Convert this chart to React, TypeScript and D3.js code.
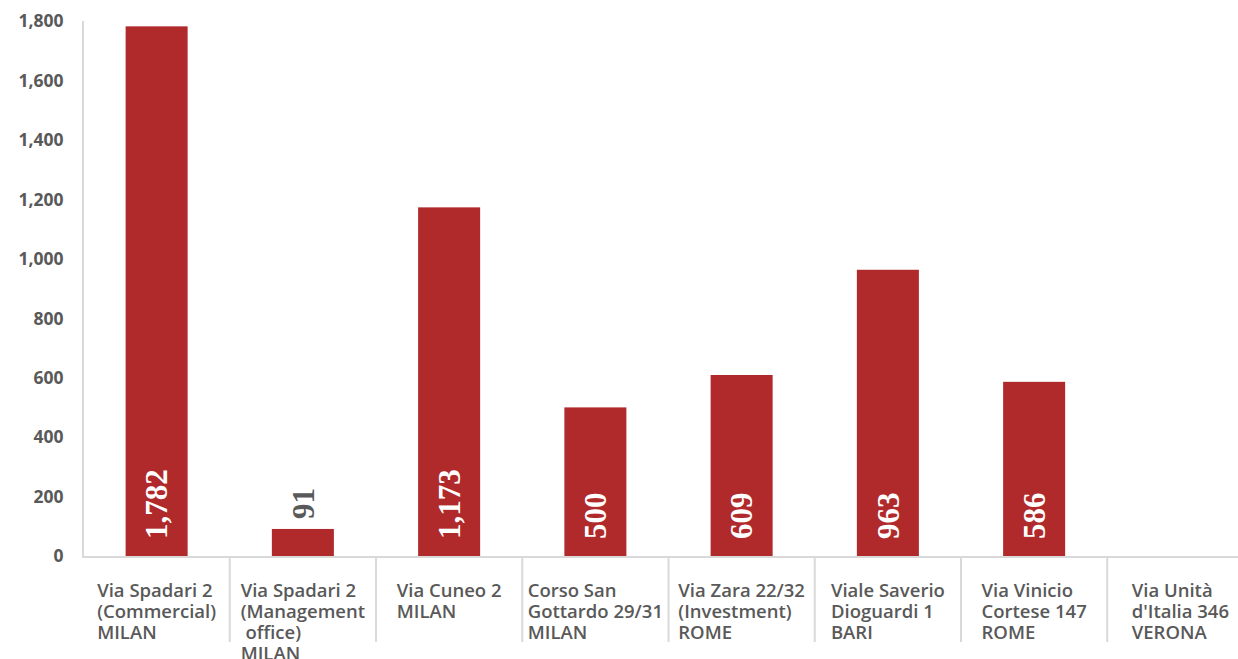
import React, { useEffect, useRef } from "react";
import * as d3 from "d3";

const categories: string[][] = [
  ["Via Spadari 2", "(Commercial)", "MILAN"],
  ["Via Spadari 2", "(Management", " office)", "MILAN"],
  ["Via Cuneo 2", "MILAN"],
  ["Corso San", "Gottardo 29/31", "MILAN"],
  ["Via Zara 22/32", "(Investment)", "ROME"],
  ["Viale Saverio", "Dioguardi 1", "BARI"],
  ["Via Vinicio", "Cortese 147", "ROME"],
  ["Via Unità", "d'Italia 346", "VERONA"],
];
const values: (number | null)[] = [1782, 91, 1173, 500, 609, 963, 586, null];
const yTicks: number[] = [0, 200, 400, 600, 800, 1000, 1200, 1400, 1600, 1800];

const W = 1238;
const H = 659;
const BAR = "#b0292b";
const TEXT = "#595959";
const AXIS = "#d9d9d9";

export default function App() {
  const ref = useRef<SVGSVGElement | null>(null);
  useEffect(() => {
    const svg = d3.select(ref.current);
    svg.selectAll("*").remove();
    const left = 83.5;
    const step = 146.25;
    const x = d3
      .scaleBand<number>()
      .domain(d3.range(categories.length))
      .range([left, left + step * categories.length])
      .paddingInner(0.576)
      .paddingOuter(0.288);
    const y = d3.scaleLinear().domain([0, 1800]).range([556, 21]);
    const fmt = d3.format(",");

    // y tick labels
    svg
      .append("g")
      .selectAll("text")
      .data(yTicks)
      .join("text")
      .attr("x", 63.5)
      .attr("y", (d) => y(d))
      .attr("dy", "0.36em")
      .attr("text-anchor", "end")
      .attr("font-family", "'Open Sans', Lato, sans-serif")
      .attr("font-weight", 700)
      .attr("font-size", 17.5)
      .attr("fill", TEXT)
      .text((d) => fmt(d));

    // bars
    svg
      .append("g")
      .selectAll("rect")
      .data(values.map((v, i) => ({ v, i })).filter((d) => d.v != null))
      .join("rect")
      .attr("x", (d) => x(d.i)!)
      .attr("width", x.bandwidth())
      .attr("y", (d) => y(d.v as number))
      .attr("height", (d) => y(0) - y(d.v as number))
      .attr("fill", BAR);

    // axes lines
    svg
      .append("line")
      .attr("x1", left - 0.5)
      .attr("x2", left - 0.5)
      .attr("y1", y(1800))
      .attr("y2", y(0))
      .attr("stroke", AXIS)
      .attr("stroke-width", 2);
    svg
      .append("line")
      .attr("x1", left - 1.5)
      .attr("x2", W)
      .attr("y1", y(0) + 1)
      .attr("y2", y(0) + 1)
      .attr("stroke", AXIS)
      .attr("stroke-width", 2);
    // category dividers
    svg
      .append("g")
      .selectAll("line")
      .data(d3.range(1, categories.length + 1))
      .join("line")
      .attr("x1", (i) => left + step * i)
      .attr("x2", (i) => left + step * i)
      .attr("y1", y(0))
      .attr("y2", 642)
      .attr("stroke", AXIS)
      .attr("stroke-width", 2);

    // data labels
    const lab = svg.append("g");
    values.forEach((v, i) => {
      if (v == null) return;
      const cx = x(i)! + x.bandwidth() / 2;
      const t = lab
        .append("text")
        .attr("font-family", "'Liberation Serif', 'DejaVu Serif', serif")
        .attr("font-weight", 700)
        .attr("font-size", 31)
        .text(fmt(v));
      const len = (t.node() as SVGTextElement).getComputedTextLength();
      const barH = y(0) - y(v);
      let start: number;
      let fill: string;
      if (barH > len + 20) {
        start = y(0) - 17;
        fill = "#ffffff";
      } else {
        start = y(v) - 10;
        fill = TEXT;
      }
      t.attr("fill", fill)
        .attr("dy", "0.35em")
        .attr("transform", `translate(${cx},${start}) rotate(-90)`);
    });

    // category labels
    const cg = svg.append("g");
    categories.forEach((lines, i) => {
      const g = cg.append("g");
      const texts = lines.map((line, k) =>
        g
          .append("text")
          .attr("x", 0)
          .attr("y", 596.5 + k * 21.3)
          .attr("font-family", "'Open Sans', Lato, sans-serif")
          .attr("font-weight", 600)
          .attr("font-size", 18.5)
          .attr("fill", TEXT)
          .attr("xml:space", "preserve")
          .style("white-space", "pre")
          .text(line)
      );
      const maxW = d3.max(texts, (t) => (t.node() as SVGTextElement).getComputedTextLength()) || 0;
      const cx = x(i)! + x.bandwidth() / 2;
      g.attr("transform", `translate(${cx - maxW / 2},0)`);
    });
  }, []);

  return (
    <svg
      ref={ref}
      width={W}
      height={H}
      style={{ position: "absolute", left: 0, top: 0, background: "#fff" }}
    />
  );
}
